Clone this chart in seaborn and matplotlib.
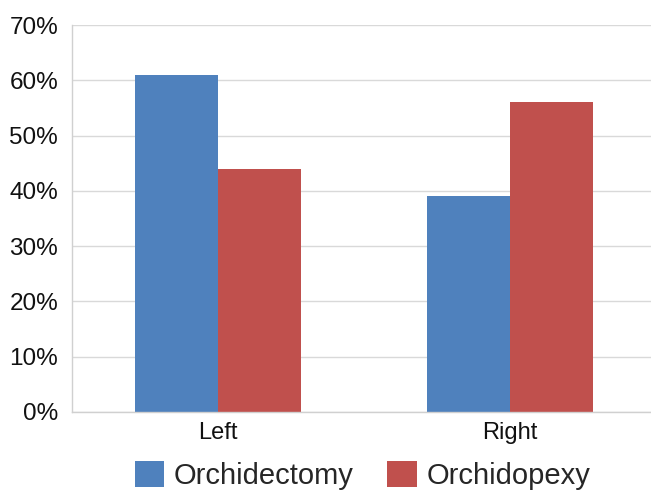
import matplotlib
matplotlib.use("Agg")
import matplotlib.pyplot as plt
import seaborn as sns
import pandas as pd
from matplotlib.ticker import FuncFormatter, FixedLocator
from matplotlib.patches import Patch

sides = ["Left", "Right"]
orchidectomy = [61, 39]
orchidopexy = [44, 56]
series_names = ["Orchidectomy", "Orchidopexy"]
colors = ["#4F81BD", "#C0504D"]

df = pd.DataFrame({
    "side": sides * 2,
    "pct": orchidectomy + orchidopexy,
    "procedure": [series_names[0]] * 2 + [series_names[1]] * 2,
})

sns.set_theme(style="white")
plt.rcParams["font.family"] = ["Liberation Sans", "DejaVu Sans"]

fig = plt.figure(figsize=(6.51, 4.91), dpi=100)
ax = fig.add_axes([72 / 651, 79 / 491, 584 / 651, 387 / 491])

sns.barplot(data=df, x="side", y="pct", hue="procedure", palette=colors,
            width=0.57, saturation=1, ax=ax, legend=False, edgecolor="none")

ax.set_xlim(-0.5, 1.5)
ax.set_ylim(0, 70)
ax.set_yticks(range(0, 71, 10))
ax.yaxis.set_major_formatter(FuncFormatter(lambda v, _: f"{int(v)}%"))
ax.yaxis.grid(True, color="#D9D9D9", linewidth=1)
ax.set_axisbelow(True)
ax.set_xlabel("")
ax.set_ylabel("")

for s in ["top", "right"]:
    ax.spines[s].set_visible(False)
for s in ["left", "bottom"]:
    ax.spines[s].set_color("#D0D0D0")
    ax.spines[s].set_linewidth(1)

ax.tick_params(axis="y", labelsize=17.5, length=4, color="#D0D0D0", pad=6, labelcolor="#111111")
ax.tick_params(axis="x", which="major", labelsize=17, length=0, pad=7, labelcolor="#111111")
ax.xaxis.set_minor_locator(FixedLocator([0.5]))
ax.tick_params(axis="x", which="minor", length=8, color="#D0D0D0", width=1)

handles = [Patch(facecolor=c, edgecolor="none", label=n) for c, n in zip(colors, series_names)]
fig.legend(handles=handles, loc="center", bbox_to_anchor=(0.557, 0.031),
           ncol=2, frameon=False, fontsize=21, handlelength=1.0, handleheight=0.95,
           handletextpad=0.34, columnspacing=1.15, borderpad=0)

fig.savefig("out.png", dpi=100)
